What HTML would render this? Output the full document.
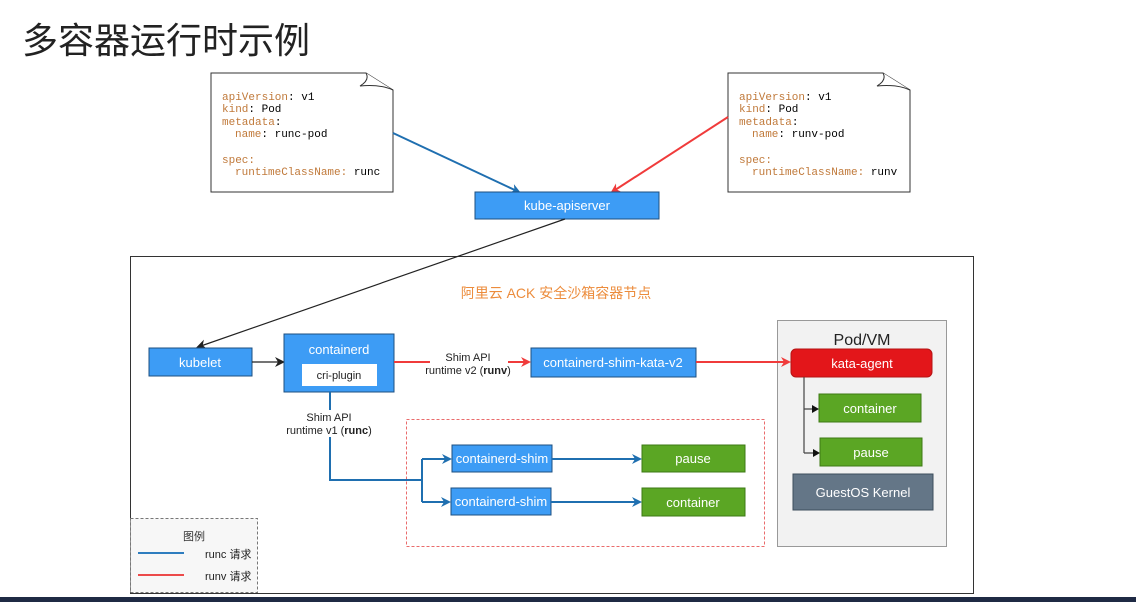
<!DOCTYPE html>
<html><head><meta charset="utf-8"><style>
html,body{margin:0;padding:0;background:#fff;width:1136px;height:602px;overflow:hidden}
svg{display:block}
.t{font-family:"Liberation Sans","Noto Sans CJK SC",sans-serif}
.m{font-family:"Liberation Mono",monospace;font-size:11px}
.k{fill:#c0793a}
</style></head><body>
<svg width="1136" height="602" viewBox="0 0 1136 602" xmlns="http://www.w3.org/2000/svg">
<defs>
<marker id="ab" markerWidth="10" markerHeight="10" refX="8" refY="5" orient="auto" markerUnits="userSpaceOnUse"><path d="M0,0 L10,5 L0,10 L3,5z" fill="#1f6fb0"/></marker>
<marker id="ar" markerWidth="10" markerHeight="10" refX="8" refY="5" orient="auto" markerUnits="userSpaceOnUse"><path d="M0,0 L10,5 L0,10 L3,5z" fill="#f03b3b"/></marker>
<marker id="ak" markerWidth="10" markerHeight="10" refX="8" refY="5" orient="auto" markerUnits="userSpaceOnUse"><path d="M0,0 L10,5 L0,10 L3,5z" fill="#222"/></marker>
</defs>
<text x="22" y="53" class="t" font-size="36" fill="#222">多容器运行时示例</text>

<!-- docs -->
<path d="M211,73 H366 L393,90 V192 H211Z" fill="#fff" stroke="#333"/>
<path d="M366,73 Q370,80 360,86 Q380,84 393,90" fill="#fff" stroke="#333"/>
<text class="m" y="0"><tspan x="222" y="100"><tspan class="k">apiVersion</tspan>: v1</tspan><tspan x="222" y="112"><tspan class="k">kind</tspan>: Pod</tspan><tspan x="222" y="125"><tspan class="k">metadata</tspan>:</tspan><tspan x="235" y="137"><tspan class="k">name</tspan>: runc-pod</tspan><tspan x="222" y="163" class="k">spec:</tspan><tspan x="235" y="175"><tspan class="k">runtimeClassName:</tspan> runc</tspan></text>
<path d="M728,73 H883 L910,90 V192 H728Z" fill="#fff" stroke="#333"/>
<path d="M883,73 Q887,80 877,86 Q897,84 910,90" fill="#fff" stroke="#333"/>
<text class="m"><tspan x="739" y="100"><tspan class="k">apiVersion</tspan>: v1</tspan><tspan x="739" y="112"><tspan class="k">kind</tspan>: Pod</tspan><tspan x="739" y="125"><tspan class="k">metadata</tspan>:</tspan><tspan x="752" y="137"><tspan class="k">name</tspan>: runv-pod</tspan><tspan x="739" y="163" class="k">spec:</tspan><tspan x="752" y="175"><tspan class="k">runtimeClassName:</tspan> runv</tspan></text>

<line x1="393" y1="133" x2="519" y2="192" stroke="#1f6fb0" stroke-width="2" marker-end="url(#ab)"/>
<line x1="728" y1="117" x2="612" y2="192" stroke="#f03b3b" stroke-width="2" marker-end="url(#ar)"/>
<rect x="475" y="192" width="184" height="27" fill="#3d9cf5" stroke="#1d4f80"/>
<text x="567" y="210" class="t" font-size="13" fill="#fff" text-anchor="middle">kube-apiserver</text>

<!-- frame -->
<rect x="130.5" y="256.5" width="843" height="337" fill="#fff" stroke="#333"/>
<line x1="565" y1="219" x2="198" y2="347" stroke="#222" stroke-width="1.2" marker-end="url(#ak)"/>
<text x="556" y="298" class="t" font-size="14" fill="#ec8c3c" text-anchor="middle">阿里云 ACK 安全沙箱容器节点</text>

<rect x="149" y="348" width="103" height="28" fill="#3d9cf5" stroke="#1d4f80"/>
<text x="200" y="367" class="t" font-size="13" fill="#fff" text-anchor="middle">kubelet</text>
<line x1="252" y1="362" x2="283" y2="362" stroke="#222" stroke-width="1.2" marker-end="url(#ak)"/>
<rect x="284" y="334" width="110" height="58" fill="#3d9cf5" stroke="#1d4f80"/>
<text x="339" y="354" class="t" font-size="13" fill="#fff" text-anchor="middle">containerd</text>
<rect x="302" y="364" width="75" height="22" fill="#fff"/>
<text x="339" y="379" class="t" font-size="11" fill="#222" text-anchor="middle">cri-plugin</text>

<line x1="394" y1="362" x2="430" y2="362" stroke="#f03b3b" stroke-width="2"/>
<text x="468" y="361" class="t" font-size="11" fill="#222" text-anchor="middle">Shim API</text>
<text x="468" y="374" class="t" font-size="11" fill="#222" text-anchor="middle">runtime v2 (<tspan font-weight="bold">runv</tspan>)</text>
<line x1="508" y1="362" x2="529" y2="362" stroke="#f03b3b" stroke-width="2" marker-end="url(#ar)"/>
<rect x="531" y="348" width="165" height="29" fill="#3d9cf5" stroke="#1d4f80"/>
<text x="613" y="367" class="t" font-size="13" fill="#fff" text-anchor="middle">containerd-shim-kata-v2</text>

<rect x="777.5" y="320.5" width="169" height="226" fill="#f2f2f2" stroke="#999"/>
<text x="862" y="345" class="t" font-size="16" fill="#222" text-anchor="middle">Pod/VM</text>
<line x1="696" y1="362" x2="789" y2="362" stroke="#f03b3b" stroke-width="2" marker-end="url(#ar)"/>
<rect x="791" y="349" width="141" height="28" rx="5" fill="#e3161a" stroke="#b51414"/>
<text x="862" y="368" class="t" font-size="13" fill="#fff" text-anchor="middle">kata-agent</text>
<path d="M804,377 V453 M804,409 H817 M804,453 H818" fill="none" stroke="#444" stroke-width="1.2"/>
<path d="M812,405 L819,409 L812,413z M813,449 L820,453 L813,457z" fill="#111"/>
<rect x="819" y="394" width="102" height="28" fill="#5ba624" stroke="#3d7a14"/>
<text x="870" y="413" class="t" font-size="13" fill="#fff" text-anchor="middle">container</text>
<rect x="820" y="438" width="102" height="28" fill="#5ba624" stroke="#3d7a14"/>
<text x="871" y="457" class="t" font-size="13" fill="#fff" text-anchor="middle">pause</text>
<rect x="793" y="474" width="140" height="36" fill="#647687" stroke="#3d4d5c"/>
<text x="863" y="497" class="t" font-size="13" fill="#fff" text-anchor="middle">GuestOS Kernel</text>

<rect x="406.5" y="419.5" width="358" height="127" fill="none" stroke="#ea6b6b" stroke-dasharray="3,2"/>
<path d="M330,392 V480 H422 M422,459 V502 M422,459 H449 M422,502 H448" fill="none" stroke="#1f6fb0" stroke-width="2"/>
<path d="M442,454 L452,459 L442,464 L445,459z M441,497 L451,502 L441,507 L444,502z" fill="#1f6fb0"/>
<rect x="284" y="410" width="90" height="27" fill="#fff"/>
<text x="329" y="421" class="t" font-size="11" fill="#222" text-anchor="middle">Shim API</text>
<text x="329" y="434" class="t" font-size="11" fill="#222" text-anchor="middle">runtime v1 (<tspan font-weight="bold">runc</tspan>)</text>
<rect x="452" y="445" width="100" height="27" fill="#3d9cf5" stroke="#1d4f80"/>
<text x="502" y="463" class="t" font-size="13" fill="#fff" text-anchor="middle">containerd-shim</text>
<rect x="451" y="488" width="100" height="27" fill="#3d9cf5" stroke="#1d4f80"/>
<text x="501" y="506" class="t" font-size="13" fill="#fff" text-anchor="middle">containerd-shim</text>
<line x1="552" y1="459" x2="640" y2="459" stroke="#1f6fb0" stroke-width="2" marker-end="url(#ab)"/>
<line x1="551" y1="502" x2="640" y2="502" stroke="#1f6fb0" stroke-width="2" marker-end="url(#ab)"/>
<rect x="642" y="445" width="103" height="27" fill="#5ba624" stroke="#3d7a14"/>
<text x="693" y="463" class="t" font-size="13" fill="#fff" text-anchor="middle">pause</text>
<rect x="642" y="488" width="103" height="28" fill="#5ba624" stroke="#3d7a14"/>
<text x="693" y="507" class="t" font-size="13" fill="#fff" text-anchor="middle">container</text>

<rect x="130.5" y="518.5" width="127" height="74" fill="#f7f7f7" stroke="#777" stroke-dasharray="3,2"/>
<text x="194" y="540" class="t" font-size="11" fill="#333" text-anchor="middle">图例</text>
<line x1="138" y1="553" x2="184" y2="553" stroke="#2e7dbf" stroke-width="2"/>
<text x="205" y="558" class="t" font-size="11" fill="#222">runc 请求</text>
<line x1="138" y1="575" x2="184" y2="575" stroke="#ec4a4a" stroke-width="2"/>
<text x="205" y="580" class="t" font-size="11" fill="#222">runv 请求</text>

<rect x="0" y="597" width="1136" height="5" fill="#1f2a44"/>
</svg>
</body></html>
